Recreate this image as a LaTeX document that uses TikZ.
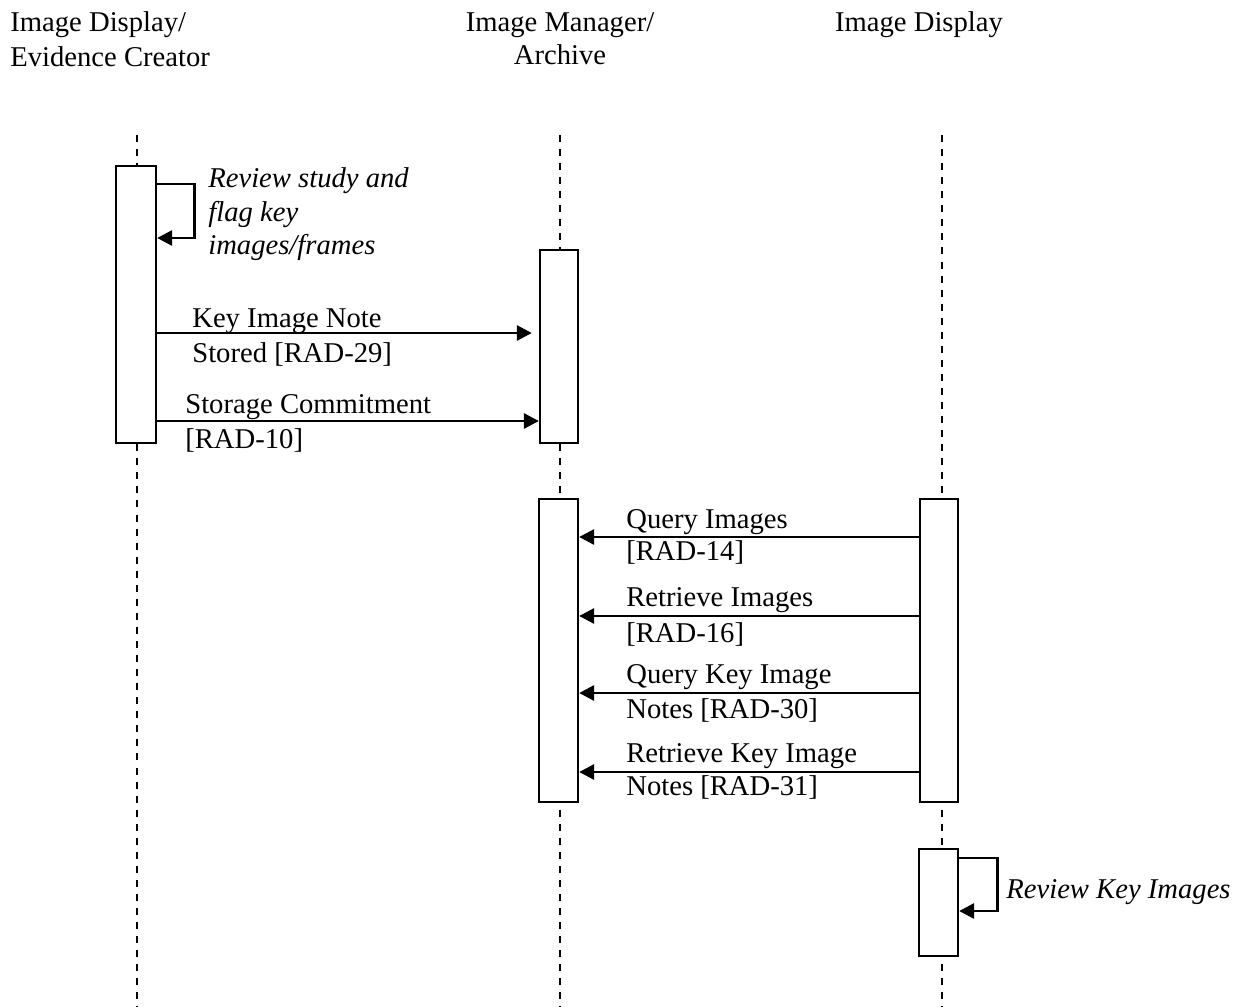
\documentclass[tikz,border=0pt]{standalone}
\usepackage{fontspec}
\setmainfont{Liberation Serif}
\usetikzlibrary{arrows.meta}
\begin{document}
\begin{tikzpicture}[x=0.02cm,y=-0.02cm,
  lifeline/.style={line width=1.2pt, dash pattern=on 4pt off 4pt},
  actbox/.style={draw, line width=1.3pt, fill=white, inner sep=0pt},
  msg/.style={line width=1.6pt, -{Triangle[length=8.5pt,width=8.5pt]}},
  lbl/.style={inner sep=0pt, anchor=base west, font=\fontsize{16.3}{19.8}\selectfont},
  ilbl/.style={lbl, font=\fontsize{16.3}{19.8}\selectfont\itshape},
  hdr/.style={inner sep=0pt, anchor=base, font=\fontsize{16.3}{19.8}\selectfont}]
\useasboundingbox (0,0) rectangle (1254,1007);
% headers
\node[lbl] (h1a) at (10,32) {Image Display/};
\node[lbl] (h1b) at (10,67) {Evidence Creator};
\node[hdr] (h2a) at (560,32) {Image Manager/};
\node[hdr] (h2b) at (560,65) {Archive};
\node[hdr] (h3a) at (919,32) {Image Display};
% lifelines
\coordinate (l1t) at (137,135); \coordinate (l1b) at (137,1007);
\coordinate (l2t) at (560,135); \coordinate (l2b) at (560,1007);
\coordinate (l3t) at (942,135); \coordinate (l3b) at (942,1007);
\draw[lifeline] (l1t) -- (l1b);
\draw[lifeline] (l2t) -- (l2b);
\draw[lifeline] (l3t) -- (l3b);
% activation boxes
\node[actbox, minimum width=0.8cm, minimum height=5.54cm] (b1) at (136,304.5) {};
\node[actbox, minimum width=0.76cm, minimum height=3.86cm] (b2) at (559,346.5) {};
\node[actbox, minimum width=0.78cm, minimum height=6.06cm] (b3) at (558.5,650.5) {};
\node[actbox, minimum width=0.76cm, minimum height=6.06cm] (b4) at (939,650.5) {};
\node[actbox, minimum width=0.78cm, minimum height=2.14cm] (b5) at (938.5,902.5) {};
% message levels
\coordinate (s1a) at (0,184); \coordinate (s1b) at (0,238);
\coordinate (m1) at (0,333); \coordinate (m2) at (0,421);
\coordinate (m3) at (0,537); \coordinate (m4) at (0,616);
\coordinate (m5) at (0,693); \coordinate (m6) at (0,772);
\coordinate (s2a) at (0,858); \coordinate (s2b) at (0,911);
% self message 1
\draw[msg] (b1.east |- s1a) -- ++(37,0) |- (b1.east |- s1b);
\node[ilbl] (r1) at (208,187) {Review study and};
\node[ilbl] (r2) at (208,221) {flag key};
\node[ilbl] (r3) at (208,254) {images/frames};
% messages to archive
\draw[msg, shorten >=4pt] (b1.east |- m1) -- (b2.west |- m1);
\node[lbl] (t1a) at (192,327) {Key Image Note};
\node[lbl] (t1b) at (192,362) {Stored [RAD-29]};
\draw[msg] (b1.east |- m2) -- (b2.west |- m2);
\node[lbl] (t2a) at (185,413) {Storage Commitment};
\node[lbl] (t2b) at (185,448) {[RAD-10]};
% messages from display
\draw[msg] (b4.west |- m3) -- (b3.east |- m3);
\node[lbl] (t3a) at (626,528) {Query Images};
\node[lbl] (t3b) at (626,560) {[RAD-14]};
\draw[msg] (b4.west |- m4) -- (b3.east |- m4);
\node[lbl] (t4a) at (626,606) {Retrieve Images};
\node[lbl] (t4b) at (626,642) {[RAD-16]};
\draw[msg] (b4.west |- m5) -- (b3.east |- m5);
\node[lbl] (t5a) at (626,683) {Query Key Image};
\node[lbl] (t5b) at (626,718) {Notes [RAD-30]};
\draw[msg] (b4.west |- m6) -- (b3.east |- m6);
\node[lbl] (t6a) at (626,762) {Retrieve Key Image};
\node[lbl] (t6b) at (626,795) {Notes [RAD-31]};
% self message 2
\draw[msg] (b5.east |- s2a) -- ++(38,0) |- (b5.east |- s2b);
\node[ilbl] (r4) at (1006,898) {Review Key Images};
\end{tikzpicture}
\end{document}
